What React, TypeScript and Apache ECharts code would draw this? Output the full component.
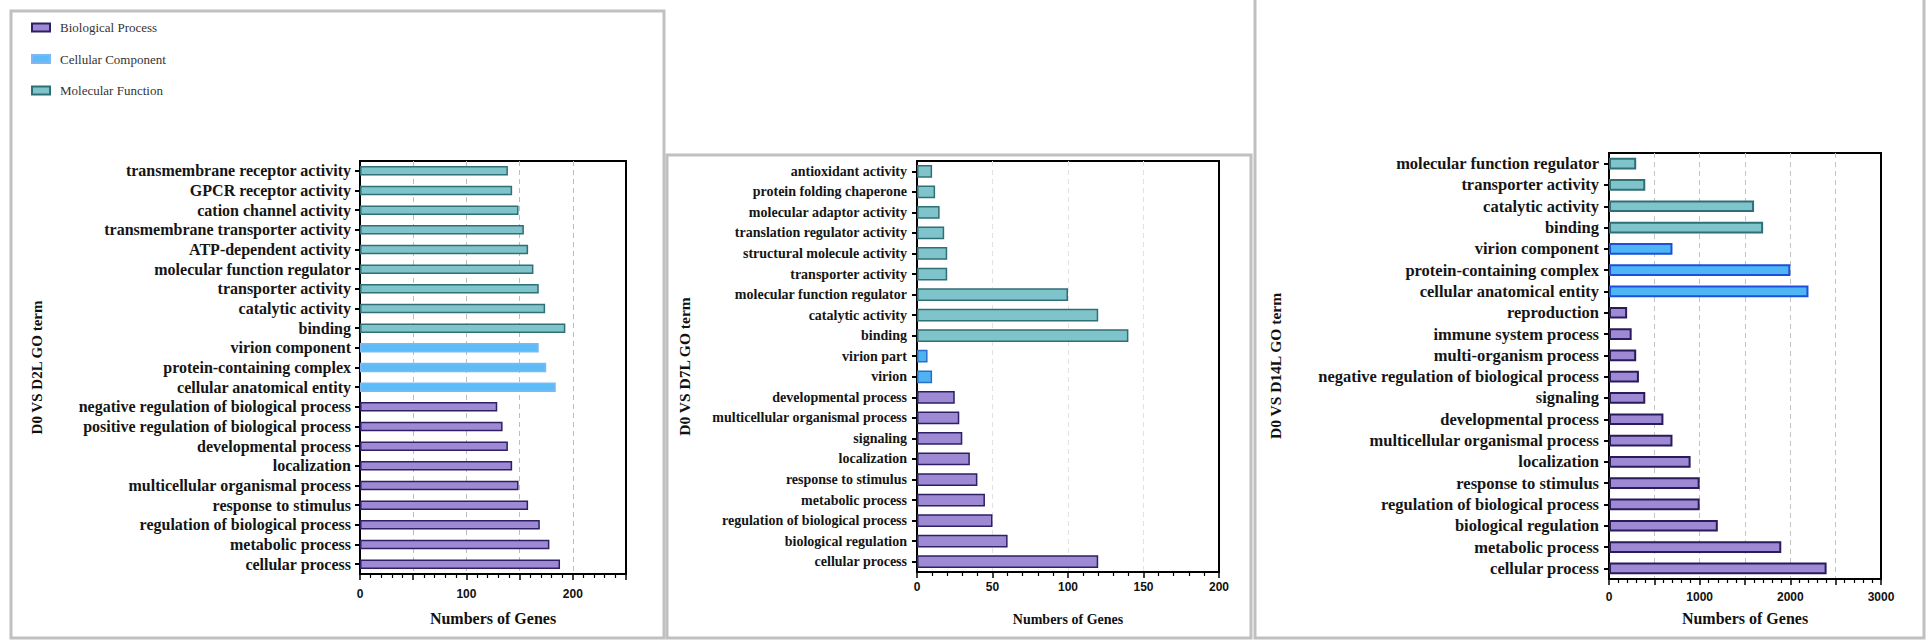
import React, { useEffect, useRef } from "react";
import * as echarts from "echarts";

// ---------- Panel 1: D0 VS D2L ----------
const P1_CATEGORIES = [
  "transmembrane receptor activity",
  "GPCR receptor activity",
  "cation channel activity",
  "transmembrane transporter activity",
  "ATP-dependent activity",
  "molecular function regulator",
  "transporter activity",
  "catalytic activity",
  "binding",
  "virion component",
  "protein-containing complex",
  "cellular anatomical entity",
  "negative regulation of biological process",
  "positive regulation of biological process",
  "developmental process",
  "localization",
  "multicellular organismal process",
  "response to stimulus",
  "regulation of biological process",
  "metabolic process",
  "cellular process",
];
const P1_VALUES = [139, 143, 149, 154, 158, 163, 168, 174, 193, 168, 175, 184, 129, 134, 139, 143, 149, 158, 169, 178, 188];
const P1_GROUPS = ["MF", "MF", "MF", "MF", "MF", "MF", "MF", "MF", "MF", "CC", "CC", "CC", "BP", "BP", "BP", "BP", "BP", "BP", "BP", "BP", "BP"];

// ---------- Panel 2: D0 VS D7L ----------
const P2_CATEGORIES = [
  "antioxidant activity",
  "protein folding chaperone",
  "molecular adaptor activity",
  "translation regulator activity",
  "structural molecule activity",
  "transporter activity",
  "molecular function regulator",
  "catalytic activity",
  "binding",
  "virion part",
  "virion",
  "developmental process",
  "multicellular organismal process",
  "signaling",
  "localization",
  "response to stimulus",
  "metabolic process",
  "regulation of biological process",
  "biological regulation",
  "cellular process",
];
const P2_VALUES = [10, 12, 15, 18, 20, 20, 100, 120, 140, 7, 10, 25, 28, 30, 35, 40, 45, 50, 60, 120];
const P2_GROUPS = ["MF", "MF", "MF", "MF", "MF", "MF", "MF", "MF", "MF", "CC", "CC", "BP", "BP", "BP", "BP", "BP", "BP", "BP", "BP", "BP"];

// ---------- Panel 3: D0 VS D14L ----------
const P3_CATEGORIES = [
  "molecular function regulator",
  "transporter activity",
  "catalytic activity",
  "binding",
  "virion component",
  "protein-containing complex",
  "cellular anatomical entity",
  "reproduction",
  "immune system process",
  "multi-organism process",
  "negative regulation of biological process",
  "signaling",
  "developmental process",
  "multicellular organismal process",
  "localization",
  "response to stimulus",
  "regulation of biological process",
  "biological regulation",
  "metabolic process",
  "cellular process",
];
const P3_VALUES = [300, 400, 1600, 1700, 700, 2000, 2200, 200, 250, 300, 330, 400, 600, 700, 900, 1000, 1000, 1200, 1900, 2400];
const P3_GROUPS = ["MF", "MF", "MF", "MF", "CC", "CC", "CC", "BP", "BP", "BP", "BP", "BP", "BP", "BP", "BP", "BP", "BP", "BP", "BP", "BP"];

const GROUP_NAMES: Record<string, string> = {
  BP: "Biological Process",
  CC: "Cellular Component",
  MF: "Molecular Function",
};
const GROUP_ORDER = ["BP", "CC", "MF"];

const SERIF = "'Liberation Serif', 'Times New Roman', serif";
const SANS = "'Liberation Sans', Arial, sans-serif";

const PANEL_STYLES = [
  {
    BP: { color: "#9d89d4", borderColor: "#2e2062", borderWidth: 1.5 },
    CC: { color: "#5cbcf7", borderColor: "#82b6f2", borderWidth: 1.5 },
    MF: { color: "#80c4cb", borderColor: "#2f6f76", borderWidth: 1.5 },
  },
  {
    BP: { color: "#9d89d4", borderColor: "#2e2062", borderWidth: 1.5 },
    CC: { color: "#4fb3f2", borderColor: "#2a6fc9", borderWidth: 1.5 },
    MF: { color: "#80c4cb", borderColor: "#2f6f76", borderWidth: 1.5 },
  },
  {
    BP: { color: "#9d89d4", borderColor: "#2a1b5a", borderWidth: 2 },
    CC: { color: "#4fb6f6", borderColor: "#1d4fdc", borderWidth: 2 },
    MF: { color: "#80c4cb", borderColor: "#2f6f76", borderWidth: 2 },
  },
];

const PANELS = [
  {
    cats: P1_CATEGORIES, vals: P1_VALUES, groups: P1_GROUPS,
    grid: { left: 360, top: 161, width: 266, height: 413 },
    max: 250, interval: 50, labelEvery: 100,
    yName: "D0 VS D2L GO term", yNameGap: 316, yNameSize: 15,
    xNameGap: 36, xNameSize: 16, labelSize: 16, labelMargin: 9, xLabelMargin: 14,
    gap: "52%", splitColor: "#bdbdbd",
  },
  {
    cats: P2_CATEGORIES, vals: P2_VALUES, groups: P2_GROUPS,
    grid: { left: 917, top: 161, width: 302, height: 411 },
    max: 200, interval: 50, labelEvery: 50,
    yName: "D0 VS D7L GO term", yNameGap: 225, yNameSize: 15.5,
    xNameGap: 40, xNameSize: 14, labelSize: 14, labelMargin: 10, xLabelMargin: 9,
    gap: "38%", splitColor: "#e2e2e2",
  },
  {
    cats: P3_CATEGORIES, vals: P3_VALUES, groups: P3_GROUPS,
    grid: { left: 1609, top: 153, width: 272, height: 426 },
    max: 3000, interval: 500, labelEvery: 1000,
    yName: "D0 VS D14L GO term", yNameGap: 326, yNameSize: 15.5,
    xNameGap: 31, xNameSize: 16, labelSize: 16.5, labelMargin: 10, xLabelMargin: 12,
    gap: "45%", splitColor: "#c4c4c4",
  },
];

function buildOption() {
  const grids: any[] = [];
  const xAxes: any[] = [];
  const yAxes: any[] = [];
  const series: any[] = [];

  PANELS.forEach((p, i) => {
    grids.push({
      ...p.grid,
      show: true,
      borderColor: "#000",
      borderWidth: 2,
      backgroundColor: "transparent",
      containLabel: false,
    });
    xAxes.push({
      type: "value",
      gridIndex: i,
      min: 0,
      max: p.max,
      interval: p.interval,
      name: "Numbers of Genes",
      nameLocation: "middle",
      nameGap: p.xNameGap,
      nameTextStyle: { fontFamily: SERIF, fontWeight: "bold", fontSize: p.xNameSize, color: "#111" },
      axisLine: { show: true, lineStyle: { color: "#000", width: 2 } },
      axisTick: { show: true, length: 6, lineStyle: { color: "#000", width: 1.5 } },
      minorTick: { show: true, splitNumber: 5, length: 4, lineStyle: { color: "#000", width: 1.2 } },
      axisLabel: {
        margin: p.xLabelMargin,
        fontFamily: SANS,
        fontWeight: "bold",
        fontSize: 12,
        color: "#111",
        formatter: (v: number) => (v % p.labelEvery === 0 ? String(v) : ""),
      },
      splitLine: {
        show: true,
        showMinLine: false,
        showMaxLine: false,
        lineStyle: { color: p.splitColor, type: [5, 4], width: 1 },
      },
    });
    yAxes.push({
      type: "category",
      gridIndex: i,
      data: p.cats,
      inverse: true,
      name: p.yName,
      nameLocation: "middle",
      nameRotate: 90,
      nameGap: p.yNameGap,
      nameTextStyle: { fontFamily: SERIF, fontWeight: "bold", fontSize: p.yNameSize, color: "#111" },
      axisLine: { show: true, lineStyle: { color: "#000", width: 2 } },
      axisTick: { show: true, alignWithLabel: true, length: 5, lineStyle: { color: "#000", width: 2 } },
      axisLabel: {
        margin: p.labelMargin,
        fontFamily: SERIF,
        fontWeight: "bold",
        fontSize: p.labelSize,
        color: "#151515",
        interval: 0,
      },
      splitLine: { show: false },
    });
    GROUP_ORDER.forEach((g) => {
      series.push({
        type: "bar",
        name: GROUP_NAMES[g],
        xAxisIndex: i,
        yAxisIndex: i,
        stack: "panel" + i,
        barCategoryGap: p.gap,
        itemStyle: (PANEL_STYLES[i] as any)[g],
        emphasis: { disabled: true },
        data: p.vals.map((v, k) => (p.groups[k] === g ? v : "-")),
      });
    });
  });

  return {
    animation: false,
    backgroundColor: "#ffffff",
    legend: {
      data: GROUP_ORDER.map((g) => GROUP_NAMES[g]),
      orient: "vertical",
      left: 26,
      top: 16,
      icon: "rect",
      itemWidth: 18,
      itemHeight: 8,
      itemGap: 18.5,
      textStyle: { fontFamily: SERIF, fontSize: 13, color: "#333", padding: [0, 0, 0, 5] },
    },
    graphic: [
      { type: "rect", shape: { x: 11, y: 11, width: 653, height: 627 }, style: { fill: "none", stroke: "#c0c0c0", lineWidth: 3 }, silent: true },
      { type: "rect", shape: { x: 667, y: 155, width: 584, height: 483 }, style: { fill: "none", stroke: "#c0c0c0", lineWidth: 3 }, silent: true },
      { type: "rect", shape: { x: 1255, y: -10, width: 669, height: 648 }, style: { fill: "none", stroke: "#c0c0c0", lineWidth: 3 }, silent: true },
    ],
    grid: grids,
    xAxis: xAxes,
    yAxis: yAxes,
    series,
  };
}

export default function App() {
  const ref = useRef<HTMLDivElement>(null);
  useEffect(() => {
    if (!ref.current) return;
    const chart = echarts.init(ref.current, undefined, { renderer: "svg" });
    chart.setOption(buildOption() as any);
    return () => chart.dispose();
  }, []);
  return (
    <div
      ref={ref}
      style={{ position: "absolute", left: 0, top: 0, width: 1932, height: 642, background: "#fff" }}
    />
  );
}
